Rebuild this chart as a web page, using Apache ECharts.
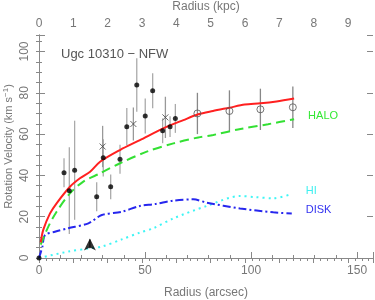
<!DOCTYPE html>
<html>
<head>
<meta charset="utf-8">
<script src="https://cdn.jsdelivr.net/npm/echarts@6/dist/echarts.min.js"></script>
<style>html,body{margin:0;padding:0;background:#fff}#c{width:375px;height:300px}</style>
</head>
<body>
<div id="c"></div>
<script>
// ---- data ----
const arcsecMax = 157.5;
const kpcPerArcsec = 0.06175;
const velMax = 108;

// filled points (x arcsec, v km/s, error)
const filledX   = [0, 11.8, 14.3, 16.8, 27.2, 30.3, 33.8, 38.2, 41.4, 46.1, 50.1, 53.6, 58.3, 61.8, 64.3];
const filledV   = [0, 41.3, 32.6, 42.5, 29.7, 48.5, 34.5, 47.8, 63.6, 83.8, 68.8, 81.0, 61.6, 63.6, 67.6];
const filledErr = [0, 7, 21, 24, 7, 9, 6, 7, 9, 13, 8.5, 8.5, 6, 5, 7];
// crosses
const crossX   = [30.0, 44.5, 59.6];
const crossV   = [54.0, 64.9, 68.1];
const crossErr = [10, 8, 10];
// open circles
const openX   = [74.7, 89.8, 104.4, 119.7];
const openV   = [70.0, 71.2, 72.0, 73.0];
const openErr = [10, 10, 10, 10];

// model curves
const totalX = [0.8, 2, 5.2, 8.3, 14.6, 19.3, 24.1, 28.8, 38.2, 47.6, 58.6, 68.1, 75.1, 82, 89.8, 97, 104.4, 112, 120.3];
const totalV = [7.5, 13.6, 21.6, 26.5, 34.5, 38.6, 41.8, 46.6, 52.3, 57.1, 62.8, 66.8, 69.6, 71.2, 72.8, 74.3, 74.9, 75.8, 77.2];
const haloX = [0.8, 4.4, 8.3, 14.6, 20.9, 28.8, 38.2, 50.8, 63.4, 75.1, 82.2, 95, 108, 120.3];
const haloV = [6.5, 15.2, 22.4, 31.3, 37.0, 41.0, 45.9, 51.5, 55.5, 58.4, 59.6, 62.5, 64.8, 67.2];
const diskX = [0, 1.6, 2.8, 7.5, 13.8, 23.3, 29.6, 39, 47.6, 54.7, 63.4, 72.8, 79.1, 94.8, 110.5, 119.2];
const diskV = [0, 5.5, 11.1, 12.7, 14.4, 16.8, 20.8, 22.4, 25.2, 26.1, 27.8, 28.4, 26.8, 24.0, 22.1, 21.6];
const hiX = [0, 13.8, 24, 29.6, 39, 47.6, 53.9, 63.4, 79.1, 94.8, 102, 110.5, 119.2];
const hiV = [0, 3.1, 4.7, 5.5, 9.0, 12.3, 14.4, 19.2, 25.2, 30.0, 29.5, 28.9, 31.0];

// arrow marker
const arrowX = 24;
const arrowStemV = [4.7, 9];
const arrowHeadV = 9.5;

const titleText = 'Ugc 10310 \u2212 NFW';
const labelHalo = 'HALO', labelHi = 'HI', labelDisk = 'DISK';

// ---- chart ----
const zip = (xs, ys) => xs.map((x, i) => [x, ys[i]]);
const bars = (xs, ys, es) => xs.map((x, i) => [x, ys[i] - es[i], ys[i] + es[i]]);

const FONT = 'Liberation Sans';
const axisColor = '#888';
const labelColor = '#777';

function errSeries(data, color) {
  return {
    type: 'custom', data: data, z: 1, silent: true,
    encode: { x: 0, y: [1, 2] },
    renderItem: function (params, api) {
      const p1 = api.coord([api.value(0), api.value(1)]);
      const p2 = api.coord([api.value(0), api.value(2)]);
      return { type: 'line', shape: { x1: p1[0], y1: p1[1], x2: p2[0], y2: p2[1] },
               style: { stroke: color, lineWidth: 1.3 } };
    }
  };
}

function xAx(opts) {
  return Object.assign({
    type: 'value', min: 0, max: arcsecMax, position: 'bottom',
    axisLine: { show: false }, splitLine: { show: false },
    axisTick: { show: true, inside: true, length: 3, lineStyle: { color: axisColor } },
    axisLabel: { show: false }
  }, opts);
}
function yAx(opts) {
  return Object.assign({
    type: 'value', min: 0, max: velMax, position: 'left',
    axisLine: { show: false }, splitLine: { show: false },
    axisTick: { show: true, inside: true, length: 3, lineStyle: { color: axisColor } },
    axisLabel: { show: false }
  }, opts);
}
const isMult = (v, m) => Math.abs(v / m - Math.round(v / m)) < 1e-6;

const chart = echarts.init(document.getElementById('c'), null, { renderer: 'canvas' });
chart.setOption({
  animation: false,
  backgroundColor: '#fff',
  textStyle: { fontFamily: FONT },
  title: { text: titleText, left: 56, top: 43,
           textStyle: { fontSize: 13, color: '#555', fontWeight: 'normal', fontFamily: FONT } },
  grid: { left: 39, right: 2, top: 35, bottom: 42, containLabel: false, outerBoundsMode: 'none' },
  xAxis: [
    xAx({ interval: 10,
          axisLine: { show: true, lineStyle: { color: axisColor } },
          axisLabel: { show: true, color: labelColor, fontSize: 12, margin: 7, showMaxLabel: false,
                       formatter: v => isMult(v, 50) ? String(v) : '' },
          name: 'Radius (arcsec)', nameLocation: 'middle', nameGap: 29,
          nameTextStyle: { color: labelColor, fontSize: 12 } }),
    xAx({ interval: 50, axisTick: { show: true, inside: true, length: 6, lineStyle: { color: axisColor } } }),
    xAx({ position: 'top', max: arcsecMax * kpcPerArcsec, interval: 1,
          axisLine: { show: true, lineStyle: { color: axisColor } },
          axisTick: { show: true, inside: true, length: 5, lineStyle: { color: axisColor } },
          minorTick: { show: true, splitNumber: 5, length: 3, lineStyle: { color: axisColor } },
          axisLabel: { show: true, color: labelColor, fontSize: 12, margin: 5, showMaxLabel: false,
                       formatter: v => isMult(v, 1) ? String(Math.round(v)) : '' },
          name: 'Radius (kpc)', nameLocation: 'middle', nameGap: 19,
          nameTextStyle: { color: labelColor, fontSize: 12 } })
  ],
  yAxis: [
    yAx({ interval: 5,
          axisLine: { show: true, lineStyle: { color: axisColor } },
          axisLabel: { show: true, color: labelColor, fontSize: 12, margin: 8, rotate: 90,
                       formatter: v => isMult(v, 20) ? String(v) : '' },
          name: 'Rotation Velocity (km s{sup|\u22121})', nameLocation: 'middle', nameGap: 23, nameRotate: 90,
          nameMoveOverlap: false,
          nameTextStyle: { color: labelColor, fontSize: 11,
                           rich: { sup: { fontSize: 8, color: labelColor, padding: [0, 0, 6, 0] } } } }),
    yAx({ interval: 20, axisTick: { show: true, inside: true, length: 6, lineStyle: { color: axisColor } } }),
    yAx({ position: 'right', interval: 5, axisLine: { show: true, lineStyle: { color: axisColor } } }),
    yAx({ position: 'right', interval: 20, axisTick: { show: true, inside: true, length: 6, lineStyle: { color: axisColor } } })
  ],
  series: [
    errSeries(bars(filledX, filledV, filledErr), '#aaa'),
    errSeries(bars(crossX, crossV, crossErr), '#999'),
    errSeries(bars(openX, openV, openErr), '#888'),
    { type: 'line', data: zip(hiX, hiV), smooth: 0.3, showSymbol: false, z: 2,
      lineStyle: { color: '#3ff5f5', width: 2, type: [2, 4] },
      endLabel: { show: true, formatter: labelHi, color: '#3ff0f0', fontSize: 11, distance: 14, offset: [0, -3] } },
    { type: 'line', data: zip(diskX, diskV), smooth: 0.3, showSymbol: false, z: 2,
      lineStyle: { color: '#2626ee', width: 2, type: [8, 3, 2, 3] },
      endLabel: { show: true, formatter: labelDisk, color: '#3333f0', fontSize: 11, distance: 14, offset: [0, -3] } },
    { type: 'line', data: zip(haloX, haloV), smooth: 0.3, showSymbol: false, z: 2,
      lineStyle: { color: '#33e033', width: 2, type: [9, 5] },
      endLabel: { show: true, formatter: labelHalo, color: '#33e833', fontSize: 11, distance: 14, offset: [0, -3] } },
    { type: 'line', data: zip(totalX, totalV), smooth: 0.3, showSymbol: false, z: 3,
      lineStyle: { color: '#ff2020', width: 2 } },
    { type: 'line', data: [[arrowX, arrowStemV[0]], [arrowX, arrowStemV[1]]], showSymbol: false, z: 4,
      lineStyle: { color: '#000', width: 1 } },
    { type: 'scatter', data: [[arrowX, arrowHeadV]], symbol: 'arrow', symbolSize: [9, 12], z: 5,
      itemStyle: { color: '#000' } },
    { type: 'scatter', data: zip(filledX, filledV), symbol: 'circle', symbolSize: 5, z: 5,
      itemStyle: { color: '#000' } },
    { type: 'scatter', data: zip(crossX, crossV), z: 5,
      symbol: 'path://M0,0L10,10M10,0L0,10', symbolSize: 6,
      itemStyle: { color: 'none', borderColor: '#444', borderWidth: 1 } },
    { type: 'scatter', data: zip(openX, openV), symbol: 'circle', symbolSize: 7, z: 5,
      itemStyle: { color: 'rgba(0,0,0,0)', borderColor: '#555', borderWidth: 1 } }
  ]
});
</script>
</body>
</html>
